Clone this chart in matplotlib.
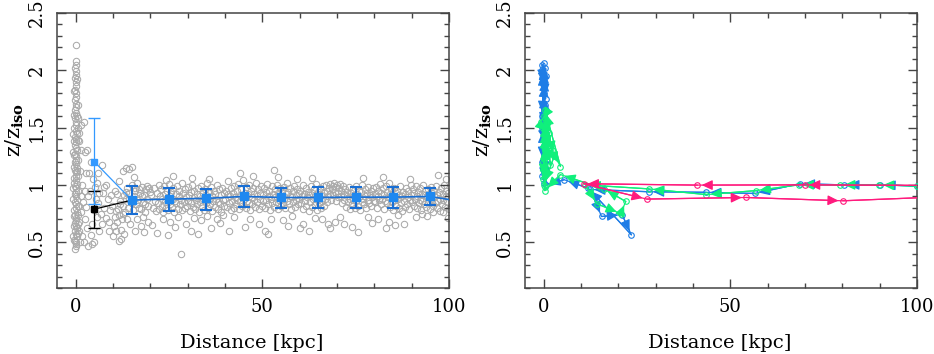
import numpy as np
import matplotlib
matplotlib.use("Agg")
import matplotlib.pyplot as plt
from matplotlib.ticker import MultipleLocator

plt.rcParams["font.family"] = "DejaVu Serif"
plt.rcParams["mathtext.fontset"] = "dejavuserif"

# ---- left panel: scatter of all satellites ----
strip_pts = [(-0.3, 0.44), (0.2, 0.47), (0.0, 0.5), (-0.4, 0.52), (0.3, 0.55), (0.1, 0.57), (-0.2, 0.6),
             (0.4, 0.62), (0.0, 0.64), (-0.3, 0.67), (0.2, 0.69), (0.1, 0.71), (-0.1, 0.74), (0.3, 0.76),
             (-0.4, 0.78), (0.0, 0.8), (0.2, 0.83), (-0.2, 0.85), (0.4, 0.87), (0.1, 0.9), (-0.3, 0.92),
             (0.2, 0.94), (0.0, 0.97), (-0.2, 0.99), (0.3, 1.01), (0.1, 1.04), (-0.4, 1.06), (0.2, 1.08),
             (0.0, 1.11), (-0.2, 1.13), (0.3, 1.15), (0.1, 1.18), (-0.3, 1.2), (0.2, 1.22), (0.0, 1.25),
             (-0.1, 1.27), (0.4, 1.3), (0.1, 1.32), (-0.3, 1.35), (0.2, 1.37), (0.0, 1.4), (-0.2, 1.42),
             (0.3, 1.45), (0.1, 1.47), (-0.4, 1.5), (0.2, 1.52), (0.0, 1.55), (-0.2, 1.58), (0.3, 1.6),
             (0.1, 1.63), (-0.3, 1.65), (0.2, 1.68), (0.0, 1.71), (-0.1, 1.74), (0.2, 1.77), (0.0, 1.8),
             (-0.2, 1.83), (0.1, 1.86), (0.0, 1.9), (-0.1, 1.93), (0.1, 1.96), (0.0, 1.99), (-0.1, 2.02),
             (0.1, 2.05), (0.0, 2.08), (0.0, 2.22), (0.5, 0.58), (-0.5, 0.73), (0.5, 0.95), (-0.5, 1.16),
             (0.5, 1.39), (-0.5, 1.61), (0.5, 0.82), (-0.5, 1.02), (0.6, 0.66), (-0.6, 0.88), (0.6, 1.08),
             (-0.6, 1.29), (0.6, 1.5), (-0.6, 0.55), (0.6, 1.22), (-0.6, 1.44), (0.6, 0.74), (-0.6, 0.97),
             (0.5, 1.7), (-0.5, 1.82), (0.4, 1.92), (-0.4, 0.64), (0.4, 1.12), (-0.4, 1.38), (0.2, 0.48),
             (-0.2, 0.51), (0.5, 1.58), (-0.5, 1.26)]

near_pts = [(1.5, 1.52), (1.0, 1.45), (2.2, 1.55), (1.3, 1.3), (2.6, 1.29), (3.1, 1.3), (0.9, 1.38),
            (4.0, 1.2), (3.6, 1.1), (4.6, 1.05), (5.2, 0.98), (5.8, 1.02), (6.3, 0.93), (7.0, 1.17),
            (3.4, 0.9), (2.0, 0.85), (1.4, 0.76), (2.5, 0.7), (3.0, 0.62), (4.1, 0.56), (5.0, 0.5),
            (6.2, 0.6), (7.1, 0.66), (8.0, 0.71), (9.0, 0.68), (7.6, 0.8), (8.6, 0.88), (9.5, 0.91),
            (6.0, 0.84), (7.2, 0.93), (3.2, 0.47), (4.4, 0.48), (1.0, 0.6), (1.6, 0.55), (2.3, 0.5),
            (8.2, 1.0), (9.3, 0.78), (10.1, 0.55), (10.8, 0.6), (11.6, 0.51), (12.1, 0.53), (6.0, 1.1),
            (7.5, 0.98), (4.8, 0.78), (5.8, 0.72), (3.8, 0.95), (2.8, 1.1), (1.8, 1.0), (1.3, 0.9),
            (2.4, 0.95), (1.1, 1.12), (0.8, 0.82), (0.9, 0.68), (1.2, 0.5), (5.5, 0.88), (6.8, 0.75),
            (8.8, 0.6), (9.8, 0.82), (2.9, 0.81), (4.3, 0.66)]

cloud_10_20 = [(10.2, 0.64), (10.6, 0.72), (11.0, 0.68), (11.3, 0.79), (11.7, 0.74), (12.0, 0.86), (12.3, 0.7),
               (12.6, 0.82), (12.9, 0.91), (13.2, 0.76), (13.5, 0.88), (13.8, 0.97), (14.1, 0.8), (14.4, 0.93),
               (14.7, 0.85), (15.0, 1.0), (15.3, 0.78), (15.6, 0.9), (15.9, 0.95), (16.2, 0.83), (16.5, 1.02),
               (16.8, 0.87), (17.1, 0.93), (17.4, 0.79), (17.7, 0.98), (18.0, 0.85), (18.3, 0.91), (18.6, 0.76),
               (18.9, 0.96), (19.2, 0.88), (19.5, 0.82), (19.8, 0.94), (10.5, 0.95), (11.5, 1.03), (12.8, 1.12),
               (13.6, 1.15), (15.5, 1.07), (16.4, 0.7), (17.4, 0.64), (18.4, 0.59), (19.3, 0.68), (13.0, 0.57),
               (16.0, 0.6), (18.0, 0.72), (11.2, 0.92), (14.5, 0.66), (17.0, 0.96), (19.0, 0.99), (14.2, 1.14),
               (15.0, 1.16), (12.2, 0.61), (13.8, 0.7), (10.9, 0.77), (11.8, 0.83), (12.6, 0.75), (13.4, 0.94),
               (14.3, 0.88), (15.2, 0.84), (16.0, 0.97), (16.9, 0.8), (17.8, 0.9), (18.7, 0.83), (19.6, 0.97)]

cloud_20_40 = [(20.3, 0.91), (20.6, 0.8), (20.9, 0.97), (21.2, 0.86), (21.5, 0.77), (21.8, 0.93), (22.0, 0.84),
               (22.2, 1.0), (22.4, 0.79), (22.6, 0.9), (22.8, 0.96), (23.0, 0.82), (23.2, 0.88), (23.4, 0.76),
               (23.6, 0.99), (23.8, 0.85), (24.0, 0.92), (24.2, 0.8), (24.4, 0.95), (24.6, 0.87), (24.8, 0.78),
               (25.0, 1.01), (25.2, 0.83), (25.4, 0.9), (25.6, 0.94), (25.8, 0.81), (26.0, 0.88), (26.2, 0.97),
               (26.4, 0.76), (26.6, 0.86), (26.8, 0.92), (27.0, 0.84), (27.2, 0.99), (27.4, 0.79), (27.6, 0.9),
               (27.8, 0.95), (28.0, 0.83), (28.2, 0.87), (28.4, 1.02), (28.6, 0.78), (28.8, 0.93), (29.0, 0.85),
               (29.2, 0.8), (29.4, 0.96), (29.6, 0.89), (29.8, 0.82), (30.0, 0.98), (30.2, 0.86), (30.4, 0.91),
               (30.6, 0.77), (30.8, 0.94), (31.0, 0.84), (31.2, 1.0), (31.4, 0.81), (31.6, 0.89), (31.8, 0.95),
               (32.0, 0.79), (32.2, 0.87), (32.4, 0.92), (32.6, 0.83), (32.8, 0.97), (33.0, 0.76), (33.2, 0.9),
               (33.4, 0.85), (33.6, 0.99), (33.8, 0.82), (34.0, 0.93), (34.2, 0.88), (34.4, 0.78), (34.6, 0.96),
               (34.8, 0.84), (35.0, 0.91), (35.2, 1.02), (35.4, 0.8), (35.6, 0.87), (35.8, 0.94), (36.0, 0.83),
               (36.2, 0.98), (36.4, 0.77), (36.6, 0.9), (36.8, 0.86), (37.0, 0.95), (37.2, 0.81), (37.4, 0.92),
               (37.6, 0.88), (37.8, 1.0), (38.0, 0.79), (38.2, 0.85), (38.4, 0.96), (38.6, 0.83), (38.8, 0.91),
               (39.0, 0.76), (39.2, 0.97), (39.4, 0.87), (39.6, 0.82), (39.8, 0.93)]

cloud_40_60 = [(40.1, 0.88), (40.3, 0.95), (40.5, 0.81), (40.7, 0.92), (40.9, 1.03), (41.1, 0.84), (41.3, 0.9),
               (41.5, 0.78), (41.7, 0.97), (41.9, 0.86), (42.1, 0.93), (42.3, 0.8), (42.5, 0.99), (42.7, 0.89),
               (42.9, 0.83), (43.1, 0.95), (43.3, 0.87), (43.5, 1.01), (43.7, 0.79), (43.9, 0.91), (44.1, 0.85),
               (44.3, 0.96), (44.5, 0.82), (44.7, 0.9), (44.9, 1.04), (45.1, 0.88), (45.3, 0.93), (45.5, 0.8),
               (45.7, 0.98), (45.9, 0.86), (46.1, 0.92), (46.3, 0.84), (46.5, 1.0), (46.7, 0.78), (46.9, 0.95),
               (47.1, 0.89), (47.3, 0.83), (47.5, 0.97), (47.7, 0.87), (47.9, 0.92), (48.1, 0.81), (48.3, 1.02),
               (48.5, 0.9), (48.7, 0.85), (48.9, 0.96), (49.1, 0.79), (49.3, 0.93), (49.5, 0.88), (49.7, 0.99),
               (49.9, 0.82), (50.1, 0.91), (50.3, 0.86), (50.5, 0.97), (50.7, 0.8), (50.9, 0.94), (51.1, 0.87),
               (51.3, 1.01), (51.5, 0.83), (51.7, 0.9), (51.9, 0.95), (52.1, 0.78), (52.3, 0.88), (52.5, 0.99),
               (52.7, 0.84), (52.9, 0.92), (53.1, 0.81), (53.3, 0.96), (53.5, 0.89), (53.7, 0.85), (53.9, 1.0),
               (54.1, 0.79), (54.3, 0.93), (54.5, 0.87), (54.7, 0.97), (54.9, 0.82), (55.1, 0.9), (55.3, 0.95),
               (55.5, 0.84), (55.7, 0.98), (55.9, 0.88), (56.1, 0.8), (56.3, 0.92), (56.5, 1.02), (56.7, 0.86),
               (56.9, 0.94), (57.1, 0.83), (57.3, 0.9), (57.5, 0.97), (57.7, 0.79), (57.9, 0.89), (58.1, 0.95),
               (58.3, 0.85), (58.5, 0.99), (58.7, 0.81), (58.9, 0.91), (59.1, 0.87), (59.3, 0.96), (59.5, 0.83),
               (59.7, 0.93), (59.9, 0.88)]

cloud_60_80 = [(60.2, 0.95), (60.4, 0.84), (60.6, 0.9), (60.8, 1.0), (61.0, 0.79), (61.2, 0.92), (61.4, 0.86),
               (61.6, 0.97), (61.8, 0.82), (62.0, 0.89), (62.2, 0.94), (62.4, 0.77), (62.6, 0.91), (62.8, 0.85),
               (63.0, 0.99), (63.2, 0.81), (63.4, 0.93), (63.6, 0.88), (63.8, 0.96), (64.0, 0.83), (64.2, 0.9),
               (64.4, 1.01), (64.6, 0.78), (64.8, 0.87), (65.0, 0.94), (65.2, 0.84), (65.4, 0.97), (65.6, 0.8),
               (65.8, 0.91), (66.0, 0.86), (66.2, 0.99), (66.4, 0.82), (66.6, 0.93), (66.8, 0.88), (67.0, 1.0),
               (67.2, 0.85), (67.4, 0.95), (67.6, 0.9), (67.8, 0.97), (68.0, 0.92), (68.2, 1.01), (68.4, 0.87),
               (68.6, 0.96), (68.8, 0.99), (69.0, 0.91), (69.2, 1.02), (69.4, 0.94), (69.6, 0.86), (69.8, 0.98),
               (70.0, 1.0), (70.2, 0.93), (70.4, 0.89), (70.6, 0.97), (70.8, 1.01), (71.0, 0.9), (71.2, 0.95),
               (71.4, 0.84), (71.6, 0.99), (71.8, 0.92), (72.0, 0.87), (72.2, 0.96), (72.4, 0.81), (72.6, 0.9),
               (72.8, 0.94), (73.0, 0.85), (73.2, 0.98), (73.4, 0.79), (73.6, 0.88), (73.8, 0.93), (74.0, 0.83),
               (74.2, 0.96), (74.4, 0.87), (74.6, 0.91), (74.8, 0.8), (75.0, 0.99), (75.2, 0.86), (75.4, 0.92),
               (75.6, 0.82), (75.8, 0.95), (76.0, 0.89), (76.2, 0.78), (76.4, 0.94), (76.6, 0.85), (76.8, 1.0),
               (77.0, 0.88), (77.2, 0.83), (77.4, 0.96), (77.6, 0.9), (77.8, 0.8), (78.0, 0.93), (78.2, 0.87),
               (78.4, 0.98), (78.6, 0.84), (78.8, 0.91), (79.0, 0.95), (79.2, 0.82), (79.4, 0.89), (79.6, 0.97),
               (79.8, 0.86)]

cloud_80_100 = [(80.1, 0.92), (80.3, 0.85), (80.5, 0.98), (80.7, 0.8), (80.9, 0.9), (81.1, 0.95), (81.3, 0.87),
                (81.5, 1.01), (81.7, 0.83), (81.9, 0.93), (82.1, 0.88), (82.3, 0.97), (82.5, 0.79), (82.7, 0.91),
                (82.9, 0.86), (83.1, 0.99), (83.3, 0.84), (83.5, 0.94), (83.7, 0.89), (83.9, 1.02), (84.1, 0.81),
                (84.3, 0.92), (84.5, 0.96), (84.7, 0.85), (84.9, 0.9), (85.1, 0.78), (85.3, 0.97), (85.5, 0.87),
                (85.7, 0.93), (85.9, 0.82), (86.1, 0.95), (86.3, 0.88), (86.5, 0.8), (86.7, 0.91), (86.9, 0.99),
                (87.1, 0.84), (87.3, 0.9), (87.5, 0.77), (87.7, 0.94), (87.9, 0.86), (88.1, 0.81), (88.3, 0.92),
                (88.5, 0.97), (88.7, 0.83), (88.9, 0.89), (89.1, 0.95), (89.3, 0.79), (89.5, 0.87), (89.7, 1.0),
                (89.9, 0.91), (90.1, 0.85), (90.3, 0.96), (90.5, 0.82), (90.7, 0.93), (90.9, 0.88), (91.1, 0.99),
                (91.3, 0.8), (91.5, 0.9), (91.7, 0.94), (91.9, 0.84), (92.1, 0.97), (92.3, 0.87), (92.5, 0.78),
                (92.7, 0.92), (92.9, 0.86), (93.1, 1.0), (93.3, 0.83), (93.5, 0.91), (93.7, 0.95), (93.9, 0.81),
                (94.1, 0.89), (94.3, 0.96), (94.5, 0.85), (94.7, 0.92), (94.9, 0.79), (95.1, 0.98), (95.3, 0.87),
                (95.5, 0.93), (95.7, 0.82), (95.9, 0.9), (96.1, 0.95), (96.3, 0.84), (96.5, 0.99), (96.7, 0.8),
                (96.9, 0.91), (97.1, 0.86), (97.3, 0.94), (97.5, 0.77), (97.7, 0.88), (97.9, 0.97), (98.1, 0.83),
                (98.3, 0.92), (98.5, 0.87), (98.7, 1.0), (98.9, 0.81), (99.1, 0.9), (99.3, 0.95), (99.5, 0.85),
                (99.7, 0.93), (99.9, 0.79)]

outliers = [(20.5, 0.65), (21.8, 0.58), (23.4, 0.7), (24.6, 0.56), (25.2, 0.68), (26.7, 0.63), (27.3, 0.72),
            (28.2, 0.4), (29.6, 0.66), (30.8, 0.6), (31.7, 0.71), (32.9, 0.57), (33.6, 0.69), (35.1, 0.73),
            (36.3, 0.62), (37.8, 0.7), (38.6, 0.67), (39.5, 0.74), (26.0, 1.08), (31.2, 1.06), (35.6, 1.05),
            (24.2, 1.04), (41.0, 0.6), (42.5, 0.72), (44.0, 1.1), (45.3, 0.63), (46.8, 0.7), (47.5, 1.08),
            (49.0, 0.66), (50.6, 0.6), (51.4, 0.57), (52.2, 0.7), (53.0, 1.13), (54.1, 1.07), (55.5, 0.69),
            (56.8, 0.64), (58.0, 0.73), (59.2, 1.05), (60.1, 0.62), (61.0, 0.66), (62.5, 0.6), (63.3, 1.06),
            (64.0, 0.71), (66.0, 0.7), (67.5, 0.66), (68.2, 0.62), (69.5, 0.68), (70.8, 0.72), (72.0, 0.66),
            (74.0, 0.63), (75.5, 0.59), (77.0, 1.06), (78.3, 0.72), (79.5, 0.67), (81.0, 0.7), (82.4, 1.07),
            (83.2, 0.62), (84.0, 0.68), (85.5, 0.65), (86.4, 0.74), (88.0, 0.66), (89.5, 1.05), (91.2, 0.72),
            (92.8, 0.75), (94.2, 0.73), (95.6, 0.76), (97.0, 1.09), (98.4, 0.76), (99.2, 1.05), (99.6, 0.71)]

# binned medians with errors
bin_x = [15, 25, 35, 45, 55, 65, 75, 85, 95, 105]
bin_y = [0.867, 0.876, 0.882, 0.899, 0.890, 0.890, 0.893, 0.893, 0.899, 0.845]
bin_lo = [0.745, 0.768, 0.783, 0.803, 0.797, 0.794, 0.797, 0.797, 0.823, 0.76]
bin_hi = [0.986, 0.972, 0.966, 0.986, 0.972, 0.978, 0.981, 0.981, 0.975, 0.93]

first_x = 5
light_y, light_lo, light_hi = 1.202, 0.829, 1.584
black_y, black_lo, black_hi = 0.788, 0.622, 0.943

# ---- right panel: individual tracks ----
blue_x = [100, 90.2, 80.5, 68.6, 56.5, 43.5, 28.2, 12.5, 15.5, 21.0, 23.5, 12.0, 5.5, 0.5,
          0.5, -0.4, 0.6, -0.3, 0.4, -0.5, 0.2, 0.5, -0.4, 0.0, 0.4, -0.5, 0.5, -0.2, 0.2, -0.4,
          0.5, 0.0, -0.3, 0.4, -0.4, 0.2, 0.0]
blue_y = [0.99, 1.0, 1.0, 1.01, 0.925, 0.935, 0.94, 0.96, 0.724, 0.74, 0.564, 0.97, 1.045, 1.0,
          1.25, 1.08, 1.45, 1.3, 1.7, 1.5, 1.9, 1.75, 2.05, 1.85, 2.02, 1.6, 1.95, 1.4, 1.8, 1.2,
          1.65, 1.02, 1.5, 1.35, 2.0, 1.88, 2.06]

green_x = [100, 89.8, 79.4, 68.3, 56.8, 43.6, 28.2, 11.2, 14.3, 20.6, 22.0, 16.1, 4.5, 0.3,
           0.2, -0.3, 0.5, 1.8, 0.2, -0.8, 2.2, 4.5, 0.4, 1.0, -0.2, 0.6, 2.8, 0.1, 0.4, -0.2, 1.5, 0.3]
green_y = [0.99, 1.0, 1.0, 1.0, 0.95, 0.915, 0.965, 1.0, 0.835, 0.75, 0.855, 0.965, 1.09, 0.95,
           1.25, 1.05, 1.45, 1.17, 1.6, 1.55, 1.3, 1.16, 1.65, 1.4, 1.2, 1.55, 1.25, 1.0, 1.35, 1.5,
           1.45, 0.98]

pink_x = [106, 70.0, 41.2, 10.7, 27.6, 54.2, 80.1, 106]
pink_y = [0.995, 1.0, 0.998, 1.01, 0.876, 0.89, 0.861, 0.895]

GRAY = "#aaaaaa"
BLUE = "#1e7de6"
GREEN = "#10f07c"
PINK = "#ff1a7d"


def style(ax):
    ax.set_xlim(-5, 100)
    ax.set_ylim(0.1, 2.5)
    ax.set_xticks([0, 50, 100])
    ax.xaxis.set_minor_locator(MultipleLocator(10))
    ax.set_yticks([0.5, 1, 1.5, 2, 2.5])
    ax.set_yticklabels(["0.5", "1", "1.5", "2", "2.5"], rotation=90, va="center")
    ax.yaxis.set_minor_locator(MultipleLocator(0.1))
    ax.tick_params(which="both", direction="in", top=True, right=True,
                   color="#444444", width=1.0, labelsize=13)
    ax.tick_params(which="major", length=6.5)
    ax.tick_params(which="minor", length=3.5)
    ax.tick_params(axis="y", pad=8)
    ax.tick_params(axis="x", pad=7)
    for s in ax.spines.values():
        s.set_color("#444444")
        s.set_linewidth(1.1)
    ax.set_xlabel("Distance [kpc]", fontsize=14, va="center")
    ax.xaxis.set_label_coords(0.496, -0.2)
    ax.set_ylabel(r"z/z$_{\mathbf{iso}}$", fontsize=15, va="center")
    ax.yaxis.set_label_coords(-0.108, 0.575)


def track(ax, xs, ys, color):
    ax.plot(xs, ys, color=color, lw=0.9, marker="o", ms=4, mfc="none", mew=0.8, zorder=3)
    for i in range(len(xs) - 1):
        a = ax.annotate("", xy=(xs[i + 1], ys[i + 1]), xytext=(xs[i], ys[i]),
                        arrowprops=dict(arrowstyle="-|>,head_length=0.65,head_width=0.3",
                                        color=color, lw=0.9, shrinkA=0, shrinkB=3,
                                        mutation_scale=10),
                        annotation_clip=False, zorder=3)
        a.arrow_patch.set_clip_box(ax.bbox)


fig = plt.figure(figsize=(9.34, 3.54), dpi=100)
ax1 = fig.add_axes([57 / 934, 66 / 354, 392 / 934, 275 / 354])
ax2 = fig.add_axes([525 / 934, 66 / 354, 392 / 934, 275 / 354])

all_pts = strip_pts + near_pts + cloud_10_20 + cloud_20_40 + cloud_40_60 + cloud_60_80 + cloud_80_100 + outliers
px, py = zip(*all_pts)
ax1.plot(px, py, ls="none", marker="o", ms=4.6, mfc="none", mec=GRAY, mew=0.75, zorder=1)

ax1.plot([first_x, bin_x[0]], [black_y, bin_y[0]], color="black", lw=0.9, zorder=2)
ax1.plot([first_x, bin_x[0]], [light_y, bin_y[0]], color="#3399ff", lw=0.9, zorder=2)
ax1.errorbar([first_x], [black_y], yerr=[[black_y - black_lo], [black_hi - black_y]],
             color="black", marker="s", ms=4, capsize=4, lw=0.9, zorder=3)
ax1.errorbar([first_x], [light_y], yerr=[[light_y - light_lo], [light_hi - light_y]],
             color="#3399ff", marker="s", ms=4.5, capsize=4, lw=0.9, zorder=3)
yerr = [np.array(bin_y) - np.array(bin_lo), np.array(bin_hi) - np.array(bin_y)]
ax1.errorbar(bin_x, bin_y, yerr=yerr, color="#1a6fd4", ecolor="#1a6fd4", lw=1.2,
             elinewidth=1.5, capsize=4, capthick=1.5, marker="s", ms=5.5,
             mfc="#1e88f0", mec="#1e88f0", zorder=4)
style(ax1)

track(ax2, blue_x, blue_y, BLUE)
track(ax2, green_x, green_y, GREEN)
track(ax2, pink_x, pink_y, PINK)
style(ax2)

fig.savefig("out.png", dpi=100)
